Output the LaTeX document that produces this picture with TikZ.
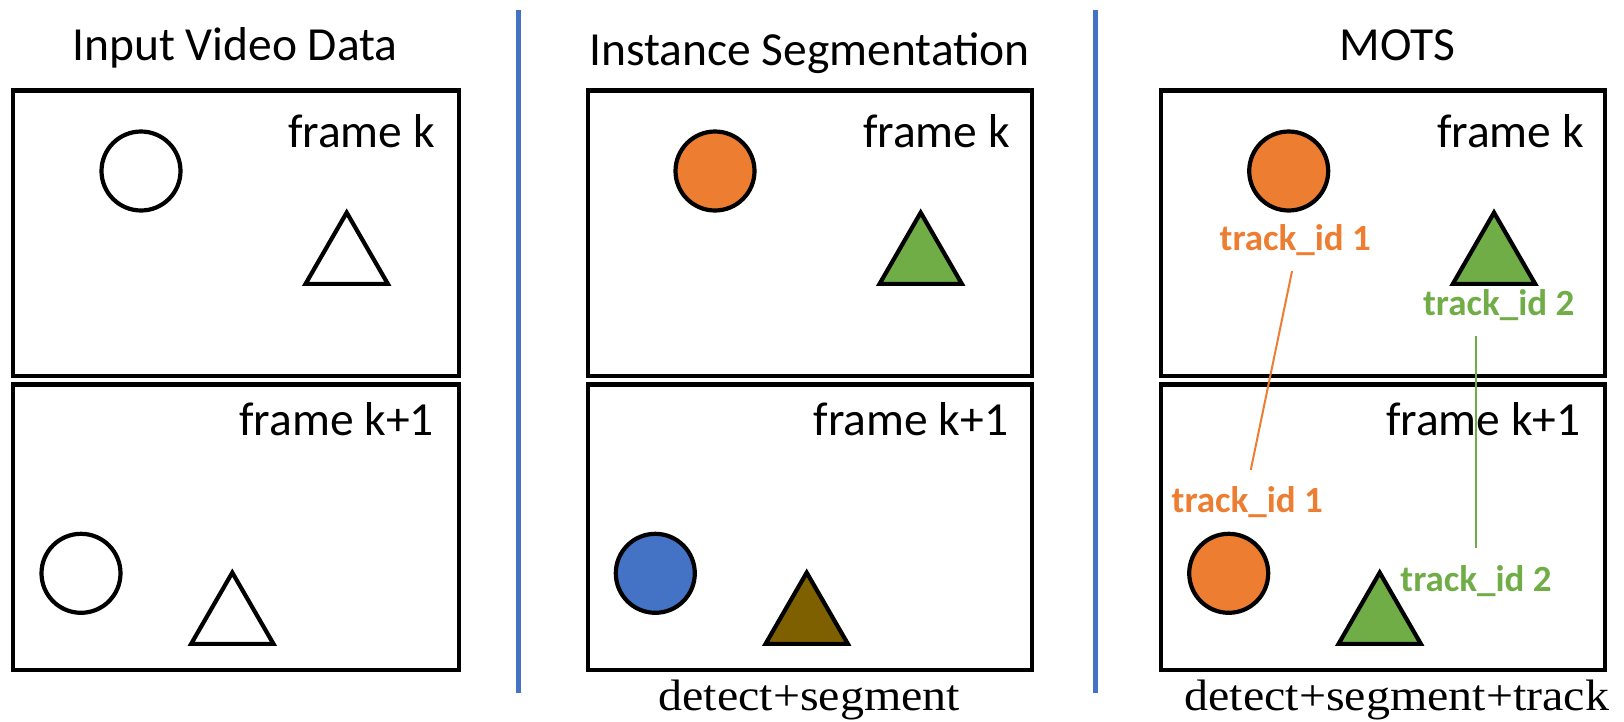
\documentclass[tikz,border=0pt]{standalone}
\usepackage{fontspec}
\setmainfont{Carlito}
\newfontfamily\timesf[FakeStretch=1.09]{Liberation Serif}
\usetikzlibrary{shapes.geometric}
\definecolor{morange}{HTML}{ED7D31}
\definecolor{mgreen}{HTML}{70AD47}
\definecolor{mblue}{HTML}{4472C4}
\definecolor{mbrown}{HTML}{7F6000}
\tikzset{
  framebox/.style={draw, line width=4.2pt, inner sep=0pt, minimum height=285.5pt, minimum width=444pt},
  ball/.style={circle, draw, line width=4.2pt, minimum size=79pt, inner sep=0pt},
  tri/.style={regular polygon, regular polygon sides=3, draw, line width=4.2pt, minimum size=95pt, inner sep=0pt},
  titletext/.style={font=\fontsize{47.5}{56}\selectfont, inner sep=0pt, anchor=base},
  framelabel/.style={font=\fontsize{47.5}{56}\selectfont, inner sep=0pt, anchor=base east},
  tracklabel/.style={font=\fontsize{37}{44}\selectfont\bfseries, inner sep=0pt, anchor=base},
  caption/.style={font=\fontsize{44}{52}\selectfont\timesf, inner sep=0pt, anchor=base},
  divider/.style={mblue, line width=5pt},
  trackline/.style={line width=2pt, shorten <=16pt, shorten >=17pt}
}
\begin{document}
\begin{tikzpicture}[x=1pt,y=-1pt]
\useasboundingbox (0,0) rectangle (1624,721);

% dividers
\coordinate (d1t) at (518,10); \coordinate (d1b) at (518,693);
\coordinate (d2t) at (1095.5,10); \coordinate (d2b) at (1095.5,693);
\draw[divider] (d1t) -- (d1b);
\draw[divider] (d2t) -- (d2b);

% titles
\node[titletext] (title1) at (235,60) {Input Video Data};
\node[titletext] (title2) at (809.7,65) {Instance Segmentation};
\node[titletext] (title3) at (1397.7,60) {MOTS};

% frames
\node[framebox, minimum width=445.7pt] (f1a) at (235.9,233.25) {};
\node[framebox, minimum width=445.7pt] (f1b) at (235.9,527.25) {};
\node[framebox] (f2a) at (809.9,233.25) {};
\node[framebox] (f2b) at (809.9,527.25) {};
\node[framebox] (f3a) at (1383.2,233.25) {};
\node[framebox] (f3b) at (1383.2,527.25) {};

% frame labels
\node[framelabel] (l1a) at (435,147) {frame k};
\node[framelabel] (l1b) at (434,435) {frame k+1};
\node[framelabel] (l2a) at (1010,147) {frame k};
\node[framelabel] (l2b) at (1008.3,435) {frame k+1};
\node[framelabel] (l3a) at (1584,147) {frame k};
\node[framelabel] (l3b) at (1580.7,435) {frame k+1};

% panel 1 shapes
\node[ball, fill=white] (c1a) at (141,171) {};
\node[tri, fill=white] (t1top) at (346.7,260.1) {};
\node[ball, fill=white] (c1b) at (81,573.3) {};
\node[tri, fill=white] (t1bot) at (232.3,620.1) {};

% panel 2 shapes
\node[ball, fill=morange] (c2a) at (715,171) {};
\node[tri, fill=mgreen] (t2top) at (920.7,260.1) {};
\node[ball, fill=mblue] (c2b) at (655.3,573.3) {};
\node[tri, fill=mbrown] (t2bot) at (806.7,620.1) {};

% panel 3 shapes
\node[ball, fill=morange] (c3a) at (1288.7,171) {};
\node[tri, fill=mgreen] (t3top) at (1494,260.1) {};
\node[ball, fill=morange] (c3b) at (1228.7,573.3) {};
\node[tri, fill=mgreen] (t3bot) at (1379.7,620.1) {};

% track labels
\node[tracklabel, text=morange] (id1a) at (1295.3,250) {track\_id 1};
\node[tracklabel, text=mgreen] (id2a) at (1498.7,315) {track\_id 2};
\node[tracklabel, text=morange] (id1b) at (1247.3,512.7) {track\_id 1};
\node[tracklabel, text=mgreen] (id2b) at (1476,591) {track\_id 2};

% track connectors
\draw[trackline, morange] (id1a.south) -- (id1b.north);
\draw[trackline, mgreen] (id2b.north |- id2a.south) -- (id2b.north);

% captions
\node[caption] (cap2) at (809.3,710) {detect+segment};
\node[caption] (cap3) at (1396.8,710) {detect+segment+track};
\end{tikzpicture}
\end{document}
